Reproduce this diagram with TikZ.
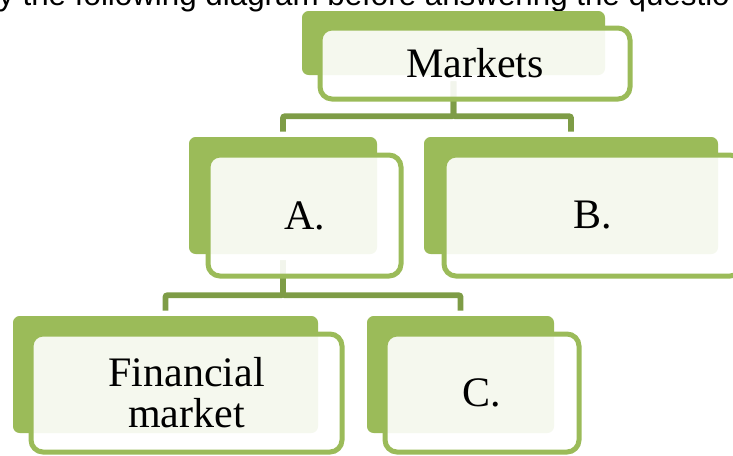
\documentclass[tikz,border=0pt]{standalone}
\usepackage{fontspec}
\setmainfont{Liberation Serif}
\newfontfamily\introfont{Liberation Sans}
\usetikzlibrary{calc}
\definecolor{leafgreen}{RGB}{155,187,89}
\definecolor{stemgreen}{RGB}{126,156,70}

\begin{document}
\begin{tikzpicture}[
  x=0.75pt, y=-0.75pt,
  back/.style={rectangle, rounded corners=5pt, fill=leafgreen, inner sep=0pt},
  front/.style={rectangle, rounded corners=9pt, draw=leafgreen, line width=3.75pt,
                fill=white, fill opacity=0.9, text opacity=1, inner sep=0pt,
                align=center, font=\fontsize{31.5}{30.75}\selectfont},
  conn/.style={draw=stemgreen, line width=4.4pt, rounded corners=1.5pt,
               shorten <=4.5pt, shorten >=3.75pt},
  intro/.style={font=\introfont\fontsize{23.5}{26}\selectfont, anchor=base west, inner sep=0pt}
]
\clip (0,0) rectangle (733,455);

\node[intro] (head) at (-2,5) {y the following diagram before answering the questio};

% back plates
\node[back, minimum width=227.25pt, minimum height=48pt] (mkb) at (453.5,43) {};
\node[back, minimum width=141pt, minimum height=87.75pt] (ab) at (283,195.5) {};
\node[back, minimum width=220.5pt, minimum height=87.75pt] (bb) at (571,195.5) {};
\node[back, minimum width=228.75pt, minimum height=87.75pt] (fmb) at (165.5,374.5) {};
\node[back, minimum width=140.25pt, minimum height=87.75pt] (cb) at (460.5,374.5) {};

% tree lines
\draw[conn] (mkb.south) -- ++(0,41) -| (ab.north);
\draw[conn] (mkb.south) -- ++(0,41) -| (bb.north);
\draw[conn] (ab.south) -- ++(0,41) -| (fmb.north);
\draw[conn] (ab.south) -- ++(0,41) -| (cb.north);

% text boxes
\node[front, minimum width=232.5pt, minimum height=53.25pt] (mk) at ($(mkb)+(21.5,20.5)$) {Markets};
\node[front, minimum width=144.75pt, minimum height=90.75pt] (a) at ($(ab)+(21.5,20)$) {A.};
\node[front, minimum width=223.5pt, minimum height=90.75pt] (b) at ($(bb)+(22,20)$) {B.};
\node[front, minimum width=233.25pt, minimum height=88.5pt] (fm) at ($(fmb)+(21,18.5)$) {Financial\\market};
\node[front, minimum width=145.5pt, minimum height=88.5pt] (c) at ($(cb)+(21.5,18.5)$) {C.};
\end{tikzpicture}
\end{document}
